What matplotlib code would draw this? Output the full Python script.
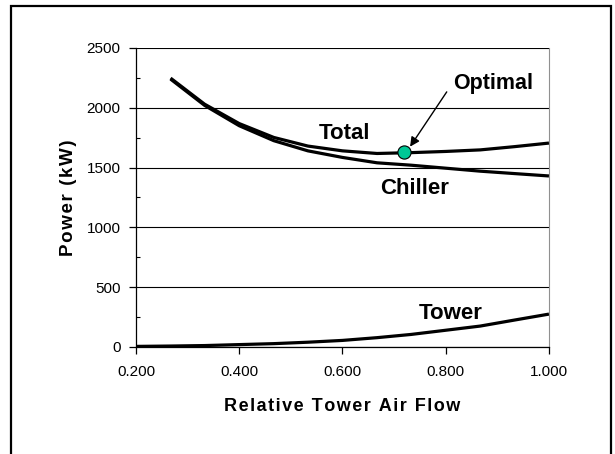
import numpy as np
import matplotlib
matplotlib.use("Agg")
import matplotlib.pyplot as plt
from matplotlib.patches import Rectangle
from matplotlib.ticker import MultipleLocator, FormatStrFormatter

plt.rcParams['font.family'] = ['Liberation Sans', 'DejaVu Sans']

# relative tower air flow (data points)
flow = [0.267, 0.333, 0.400, 0.467, 0.533, 0.600, 0.667, 0.733, 0.800, 0.867, 0.933, 1.000]
flow_tower = [0.200, 0.267, 0.333, 0.400, 0.467, 0.533, 0.600, 0.667, 0.733, 0.800, 0.867, 0.933, 1.000]

# power in kW
chiller = [2240, 2020, 1850, 1725, 1640, 1585, 1540, 1520, 1495, 1470, 1450, 1430]
tower = [5, 8, 12, 20, 28, 40, 55, 78, 105, 140, 175, 225, 275]
total = [2248, 2030, 1868, 1752, 1680, 1640, 1618, 1625, 1635, 1648, 1675, 1705]

opt_flow = 0.72
opt_power = 1630


def spaced(s):
    # imitate the wide letter spacing of the original labels
    return '\u200a'.join(s)


fig = plt.figure(figsize=(6.15, 4.54), dpi=100)
ax = fig.add_axes([0.2211, 0.2357, 0.6715, 0.6586])

# outer frame around the whole chart
fig.patches.append(Rectangle((0.0179, -0.05), 0.9756, 1.0368, transform=fig.transFigure,
                             fill=False, edgecolor='black', linewidth=1.6, clip_on=False))

ax.plot(flow, chiller, color='black', lw=2.3, solid_capstyle='butt', zorder=3)
ax.plot(flow, total, color='black', lw=2.3, solid_capstyle='butt', zorder=3)
ax.plot(flow_tower, tower, color='black', lw=2.3, solid_capstyle='butt', zorder=3)
ax.plot([opt_flow], [opt_power], 'o', ms=9.5, mfc='#00C896', mec='black', mew=0.8, zorder=4)

ax.set_xlim(0.2, 1.0)
ax.set_ylim(0, 2500)
ax.xaxis.set_major_locator(MultipleLocator(0.2))
ax.xaxis.set_major_formatter(FormatStrFormatter('%.3f'))
ax.yaxis.set_major_locator(MultipleLocator(500))
ax.yaxis.set_minor_locator(MultipleLocator(250))

ax.grid(axis='y', which='major', color='black', lw=0.8)
ax.set_axisbelow(True)
ax.spines['top'].set_visible(False)
ax.spines['right'].set_color('#909090')
ax.spines['right'].set_linewidth(0.8)
ax.spines['left'].set_linewidth(0.9)
ax.spines['bottom'].set_linewidth(0.9)

ax.tick_params(axis='both', which='major', direction='out', length=5, width=0.9, labelsize=11, pad=8)
ax.tick_params(axis='y', which='major', pad=6)
ax.tick_params(axis='y', which='minor', direction='in', length=3, width=0.8)

ax.set_xlabel(spaced('Relative Tower Air Flow'), fontsize=13, fontweight='bold', labelpad=14)
ax.set_ylabel(spaced('Power (kW)'), fontsize=13.5, fontweight='bold', labelpad=7)

ax.text(0.603, 1783, 'Total', fontsize=16, fontweight='bold', ha='center', va='center')
ax.text(0.740, 1325, 'Chiller', fontsize=16, fontweight='bold', ha='center', va='center')
ax.text(0.810, 283, 'Tower', fontsize=16, fontweight='bold', ha='center', va='center')
ax.text(0.892, 2200, 'Optimal', fontsize=15.5, fontweight='bold', ha='center', va='center')
ax.annotate('', xy=(0.731, 1675), xytext=(0.802, 2133),
            arrowprops=dict(arrowstyle='-|>', color='black', lw=1.0, mutation_scale=14,
                            shrinkA=0, shrinkB=0))

fig.savefig('out.png', dpi=100)
